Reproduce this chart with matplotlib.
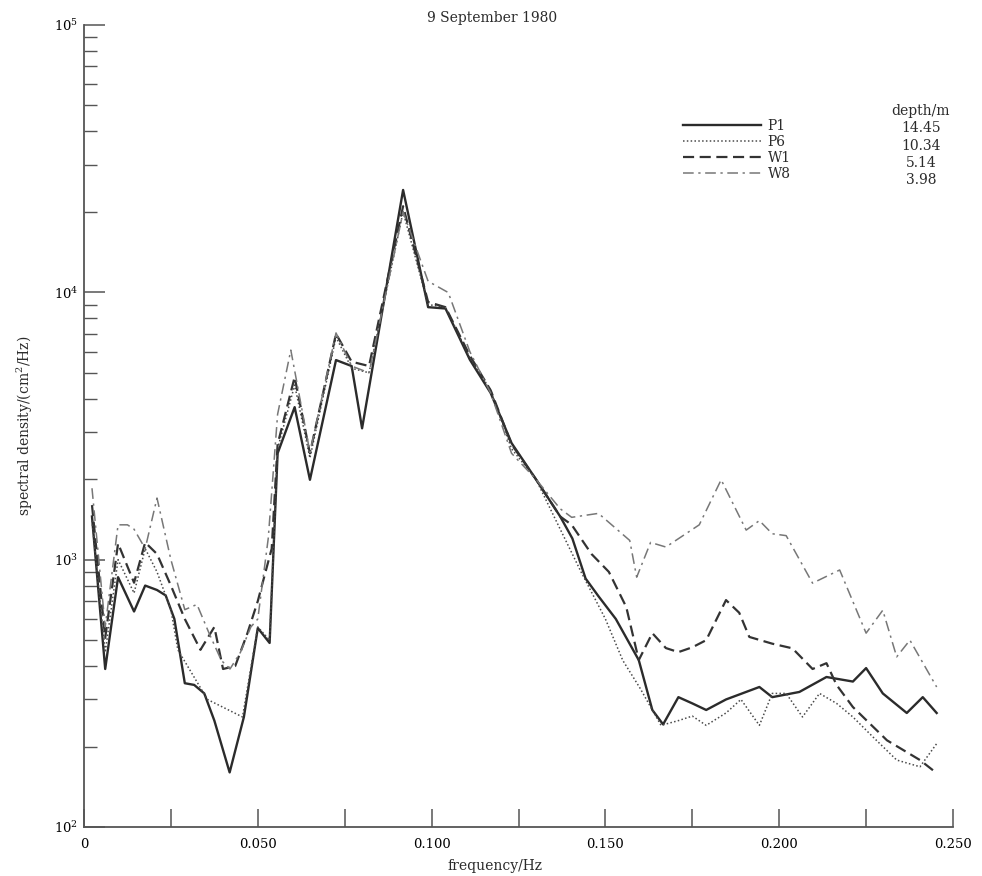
import numpy as np
import matplotlib
matplotlib.use("Agg")
import matplotlib.pyplot as plt
from matplotlib.lines import Line2D
from matplotlib.ticker import FixedLocator, LogLocator, NullFormatter

plt.rcParams["font.family"] = ["DejaVu Serif"]
plt.rcParams["mathtext.fontset"] = "dejavuserif"

# spectral estimates (frequency in Hz, density in cm^2/Hz)
p1_freq = [0.0023, 0.0061, 0.0098, 0.0144, 0.0176, 0.0210, 0.0235, 0.0260, 0.0290,
           0.0317, 0.0346, 0.0375, 0.0419, 0.0460, 0.0500, 0.0534, 0.0557, 0.0606,
           0.0650, 0.0725, 0.0770, 0.0800, 0.0918, 0.0990, 0.1040, 0.1110, 0.1170,
           0.1230, 0.1300, 0.1370, 0.1405, 0.1443, 0.1480, 0.1530, 0.1596, 0.1635,
           0.1666, 0.1710, 0.1750, 0.1790, 0.1847, 0.1943, 0.1980, 0.2058, 0.2136,
           0.2212, 0.2250, 0.2298, 0.2367, 0.2413, 0.2453]
p1_val = [1450, 390, 860, 640, 800, 770, 735, 600, 345,
          340, 316, 250, 160, 258, 555, 488, 2500, 3720,
          1990, 5580, 5300, 3100, 24150, 8800, 8700, 5600, 4200,
          2730, 2000, 1450, 1200, 850, 730, 600, 421, 274,
          242, 306, 290, 274, 300, 334, 306, 320, 364,
          350, 393, 316, 267, 306, 267]

p6_freq = [0.0023, 0.0061, 0.0098, 0.0144, 0.0176, 0.0210, 0.0250, 0.0270, 0.0355,
           0.0456, 0.0500, 0.0534, 0.0557, 0.0606, 0.0650, 0.0725, 0.0770, 0.0820,
           0.0918, 0.0990, 0.1040, 0.1110, 0.1170, 0.1230, 0.1300, 0.1370, 0.1430,
           0.1500, 0.1550, 0.1600, 0.1660, 0.1710, 0.1750, 0.1790, 0.1847, 0.1890,
           0.1943, 0.1980, 0.2020, 0.2067, 0.2116, 0.2165, 0.2212, 0.2270, 0.2338,
           0.2405, 0.2453]
p6_val = [1400, 450, 1000, 750, 1100, 900, 650, 460, 300,
          258, 560, 500, 2600, 4500, 2400, 6800, 5200, 5000,
          20000, 9000, 8800, 5700, 4300, 2600, 2000, 1300, 900,
          600, 420, 330, 240, 250, 260, 240, 267, 300,
          240, 316, 316, 258, 316, 290, 258, 217, 178,
          168, 205]

w1_freq = [0.0023, 0.0061, 0.0098, 0.0144, 0.0176, 0.0210, 0.0250, 0.0290, 0.0335,
           0.0375, 0.0400, 0.0435, 0.0470, 0.0500, 0.0540, 0.0557, 0.0606, 0.0650,
           0.0725, 0.0770, 0.0820, 0.0918, 0.0990, 0.1040, 0.1110, 0.1170, 0.1230,
           0.1300, 0.1370, 0.1403, 0.1460, 0.1510, 0.1560, 0.1596, 0.1635, 0.1674,
           0.1710, 0.1750, 0.1790, 0.1847, 0.1885, 0.1914, 0.1980, 0.2038, 0.2096,
           0.2136, 0.2165, 0.2212, 0.2310, 0.2405, 0.2453]
w1_val = [1600, 510, 1150, 820, 1160, 1050, 800, 600, 460,
          560, 390, 400, 530, 700, 1100, 2700, 4820, 2500,
          7000, 5500, 5300, 21000, 9200, 8800, 5800, 4300, 2700,
          2000, 1450, 1350, 1050, 900, 665, 421, 531, 467,
          451, 470, 500, 706, 633, 514, 485, 466, 390,
          410, 340, 281, 211, 178, 159]

w8_freq = [0.0023, 0.0061, 0.0098, 0.0125, 0.0144, 0.0176, 0.0210, 0.0250, 0.0290,
           0.0325, 0.0360, 0.0395, 0.0420, 0.0450, 0.0480, 0.0500, 0.0530, 0.0557,
           0.0595, 0.0650, 0.0725, 0.0770, 0.0820, 0.0918, 0.0990, 0.1048, 0.1110,
           0.1170, 0.1230, 0.1300, 0.1370, 0.1403, 0.1480, 0.1570, 0.1590, 0.1630,
           0.1674, 0.1770, 0.1833, 0.1905, 0.1943, 0.1980, 0.2020, 0.2096, 0.2174,
           0.2250, 0.2298, 0.2338, 0.2376, 0.2453]
w8_val = [1850, 560, 1350, 1350, 1300, 1100, 1700, 1000, 650,
          680, 530, 420, 390, 450, 560, 600, 1200, 3500,
          6080, 2520, 7050, 5300, 5000, 20000, 11000, 9980, 6000,
          4200, 2500, 2000, 1550, 1440, 1490, 1180, 860, 1160,
          1115, 1350, 1990, 1290, 1400, 1250, 1230, 817, 915,
          531, 647, 433, 500, 334]

station_names = ["P1", "P6", "W1", "W8"]
station_depths = ["14.45", "10.34", "5.14", "3.98"]

x_ticks = [0.0, 0.05, 0.10, 0.15, 0.20, 0.25]
x_tick_labels = ["0", "0.050", "0.100", "0.150", "0.200", "0.250"]

fig = plt.figure(figsize=(9.82, 8.76), dpi=100)
ax = fig.add_axes([84 / 982, 1 - 827 / 876, (953 - 84) / 982, (827 - 25) / 876])

ink = "#2b2b2b"
ax.plot(p1_freq, p1_val, color=ink, lw=1.7, ls="-")
ax.plot(p6_freq, p6_val, color="#4a4a4a", lw=1.1, ls=(0, (1, 1.5)))
ax.plot(w1_freq, w1_val, color="#333333", lw=1.6, ls=(0, (5, 2.5)))
ax.plot(w8_freq, w8_val, color="#777777", lw=1.1, ls=(0, (7, 3, 1.5, 3)))

ax.set_yscale("log")
ax.set_xlim(0, 0.25)
ax.set_ylim(100, 1e5)

ax.spines["top"].set_visible(False)
ax.spines["right"].set_visible(False)
for s in ("left", "bottom"):
    ax.spines[s].set_color("#555555")
    ax.spines[s].set_linewidth(1.3)

ax.xaxis.set_major_locator(FixedLocator(x_ticks))
ax.set_xticklabels(x_tick_labels)
ax.xaxis.set_minor_locator(FixedLocator([0.025, 0.075, 0.125, 0.175, 0.225]))
ax.tick_params(axis="x", which="both", direction="in", length=13, width=1.1,
               color="#555555", labelsize=9.5, pad=8)
ax.yaxis.set_major_locator(LogLocator(base=10, numticks=5))
ax.yaxis.set_minor_locator(LogLocator(base=10, subs=np.arange(2, 10), numticks=20))
ax.yaxis.set_minor_formatter(NullFormatter())
ax.tick_params(axis="y", which="major", direction="in", length=15, width=1.1,
               color="#555555", labelsize=9.5, pad=4)
ax.tick_params(axis="y", which="minor", direction="in", length=9, width=1.0,
               color="#555555")

ax.set_ylabel("spectral density/(cm$^2$/Hz)", fontsize=10, color=ink, labelpad=14)
fig.text(495 / 982, 1 - 866 / 876, "frequency/Hz", ha="center", va="center",
         fontsize=10, color=ink)
fig.text(492 / 982, 1 - 18 / 876, "9 September 1980", ha="center", va="center",
         fontsize=10, color=ink)

handles = [
    Line2D([], [], color=ink, lw=1.7, ls="-"),
    Line2D([], [], color="#4a4a4a", lw=1.1, ls=(0, (1, 1.5))),
    Line2D([], [], color="#333333", lw=1.6, ls=(0, (5, 2.5))),
    Line2D([], [], color="#777777", lw=1.1, ls=(0, (7, 3, 1.5, 3))),
]
leg = fig.legend(handles, station_names, loc="upper left",
                 bbox_to_anchor=(683 / 982, 1 - 119 / 876), frameon=False,
                 handlelength=5.6, handletextpad=0.5, labelspacing=0.15,
                 borderpad=0, borderaxespad=0, fontsize=10)
for t in leg.get_texts():
    t.set_color(ink)

fig.text(921 / 982, 1 - 111 / 876, "depth/m", ha="center", va="center",
         fontsize=10, color=ink)
for i, d in enumerate(station_depths):
    fig.text(921 / 982, 1 - (128 + 17.5 * i) / 876, d, ha="center", va="center",
             fontsize=10, color=ink)

fig.savefig("out.png", dpi=100)
